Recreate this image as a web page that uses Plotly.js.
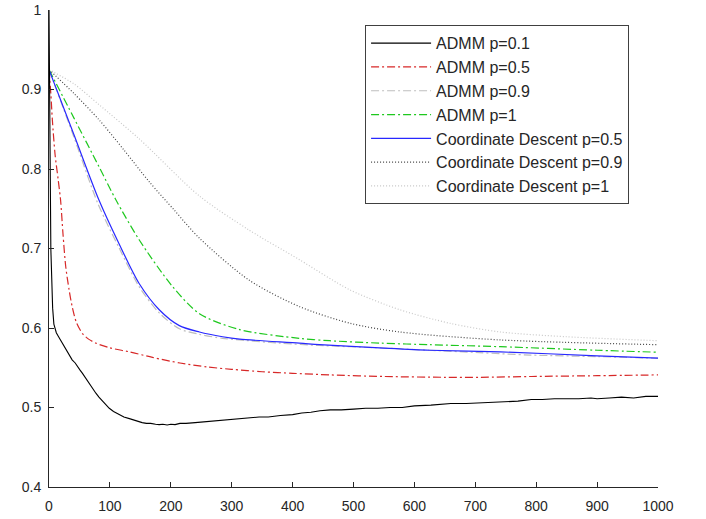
<!DOCTYPE html>
<html>
<head>
<meta charset="utf-8">
<script src="https://cdn.plot.ly/plotly-3.0.1.min.js"></script>
<style>html,body{margin:0;padding:0;background:#fff;}#chart{width:706px;height:519px;}</style>
</head>
<body>
<div id="chart"></div>
<script>
const seriesNames = ["ADMM p=0.1","ADMM p=0.5","ADMM p=0.9","ADMM p=1","Coordinate Descent p=0.5","Coordinate Descent p=0.9","Coordinate Descent p=1"];

const admm01X = [0,1,2,3,4,5,6,8,10,12,15,19,23,28,33,38,43,47,51,55,60,66,71,77,82,88,94,99,106,115,123,132,139,146,153,160,167,175,181,187,194,200,207,215,225,240,255,270,285,300,315,330,345,360,380,400,415,430,445,462,480,500,520,540,560,580,600,627,645,660,685,709,730,750,770,792,810,830,850,870,890,900,920,940,960,980,1000];
const admm01Y = [1.0,0.93,0.80,0.70,0.66,0.64,0.625,0.605,0.598,0.594,0.590,0.585,0.579,0.572,0.566,0.560,0.556,0.551,0.547,0.543,0.537,0.530,0.524,0.518,0.513,0.508,0.503,0.499,0.495,0.491,0.488,0.486,0.484,0.482,0.481,0.480,0.480,0.479,0.4785,0.479,0.478,0.479,0.4785,0.480,0.480,0.481,0.482,0.483,0.484,0.485,0.486,0.4865,0.488,0.488,0.490,0.491,0.493,0.494,0.496,0.497,0.497,0.498,0.499,0.499,0.500,0.500,0.502,0.503,0.504,0.505,0.505,0.506,0.507,0.508,0.508,0.510,0.510,0.511,0.511,0.511,0.512,0.511,0.512,0.513,0.512,0.514,0.514];

const admm05X = [0,3,5.5,10,15,19,23,27.5,33,38,45,55,65,77,100,132,170,215,260,300,350,400,462,550,650,709,792,900,1000];
const admm05Y = [0.925,0.895,0.862,0.818,0.787,0.761,0.718,0.677,0.648,0.627,0.607,0.593,0.586,0.581,0.575,0.570,0.563,0.556,0.551,0.548,0.545,0.543,0.541,0.539,0.538,0.538,0.539,0.540,0.541];

const admm09X = [0,41,80,115,148,181,214,247,285,313,378,444,543,625,707,790,900,1000];
const admm09Y = [0.925,0.840,0.757,0.701,0.652,0.619,0.599,0.592,0.587,0.585,0.581,0.578,0.575,0.572,0.569,0.566,0.564,0.562];

const admm1X = [0,41,82,110,148,203,247,313,411,461,543,625,741,900,1000];
const admm1Y = [0.925,0.864,0.803,0.761,0.711,0.652,0.618,0.598,0.587,0.584,0.581,0.579,0.5765,0.572,0.5695];

const cd05X = [0,41,82,115,148,181,214,247,285,313,411,444,543,625,741,900,1000];
const cd05Y = [0.925,0.843,0.761,0.706,0.656,0.623,0.603,0.595,0.589,0.586,0.581,0.579,0.575,0.572,0.570,0.565,0.562];

const cd09X = [0,41,82,123,164.5,206,247,329,411,494,576,741,1000];
const cd09Y = [0.925,0.895,0.862,0.824,0.784,0.748,0.713,0.660,0.627,0.606,0.595,0.585,0.579];

const cd1X = [0,41,82,148,247,329,411,494,576,658,741,850,1000];
const cd1Y = [0.925,0.907,0.881,0.838,0.766,0.723,0.686,0.648,0.623,0.606,0.595,0.589,0.584];

const xTickVals = [0,100,200,300,400,500,600,700,800,900,1000];
const yTickVals = [0.4,0.5,0.6,0.7,0.8,0.9,1];
const yTickText = ["0.4","0.5","0.6","0.7","0.8","0.9","1"];

const dashDot = "8px,3px,2px,3px";
const dotted = "1px,2px";
const styles = [
  {color:"#000000", width:1.1, dash:"solid", shape:"linear"},
  {color:"rgb(215,40,40)", width:1.2, dash:dashDot, shape:"spline"},
  {color:"rgb(190,190,190)", width:1.2, dash:dashDot, shape:"spline"},
  {color:"rgb(30,200,30)", width:1.2, dash:dashDot, shape:"spline"},
  {color:"rgb(40,40,255)", width:1.2, dash:"solid", shape:"spline"},
  {color:"rgb(70,70,70)", width:1.2, dash:dotted, shape:"spline"},
  {color:"rgb(200,200,200)", width:1.2, dash:dotted, shape:"spline"}
];
const xs = [admm01X, admm05X, admm09X, admm1X, cd05X, cd09X, cd1X];
const ys = [admm01Y, admm05Y, admm09Y, admm1Y, cd05Y, cd09Y, cd1Y];

const order = [6,5,2,3,4,1,0];
const traces = order.map(i => ({
  type:"scatter", mode:"lines", x: xs[i], y: ys[i], name: seriesNames[i],
  legendgroup: "g"+i, legendrank: i+1,
  line: {color: styles[i].color, width: styles[i].width, dash: styles[i].dash, shape: styles[i].shape, smoothing: 0.8},
  hoverinfo: "skip"
}));

const axisColor = "#262626";
const layout = {
  width:706, height:519,
  margin:{l:49, r:48, t:10, b:32, pad:0},
  paper_bgcolor:"#ffffff", plot_bgcolor:"#ffffff",
  font:{family:"Liberation Sans, Arial, sans-serif", size:14, color:axisColor},
  showlegend:true,
  legend:{
    x:0.519, y:0.968, xanchor:"left", yanchor:"top",
    bgcolor:"#ffffff", bordercolor:"#404040", borderwidth:1,
    font:{size:16, color:axisColor, family:"Liberation Sans, Arial, sans-serif"},
    traceorder:"grouped", tracegroupgap:0, itemwidth:60
  },
  xaxis:{
    range:[0,1000], tickvals:xTickVals, ticks:"inside", ticklen:5, tickwidth:1,
    tickcolor:axisColor, showline:true, linecolor:axisColor, linewidth:1,
    showgrid:false, zeroline:false, mirror:false, ticklabelstandoff:6,
    tickfont:{size:14, color:axisColor}
  },
  yaxis:{
    range:[0.4,1], tickvals:yTickVals, ticktext:yTickText, ticks:"inside", ticklen:5, tickwidth:1,
    tickcolor:axisColor, showline:true, linecolor:axisColor, linewidth:1,
    showgrid:false, zeroline:false, mirror:false, ticklabelstandoff:4,
    tickfont:{size:14, color:axisColor}
  }
};
Plotly.newPlot("chart", traces, layout, {displayModeBar:false, staticPlot:true});
</script>
</body>
</html>
